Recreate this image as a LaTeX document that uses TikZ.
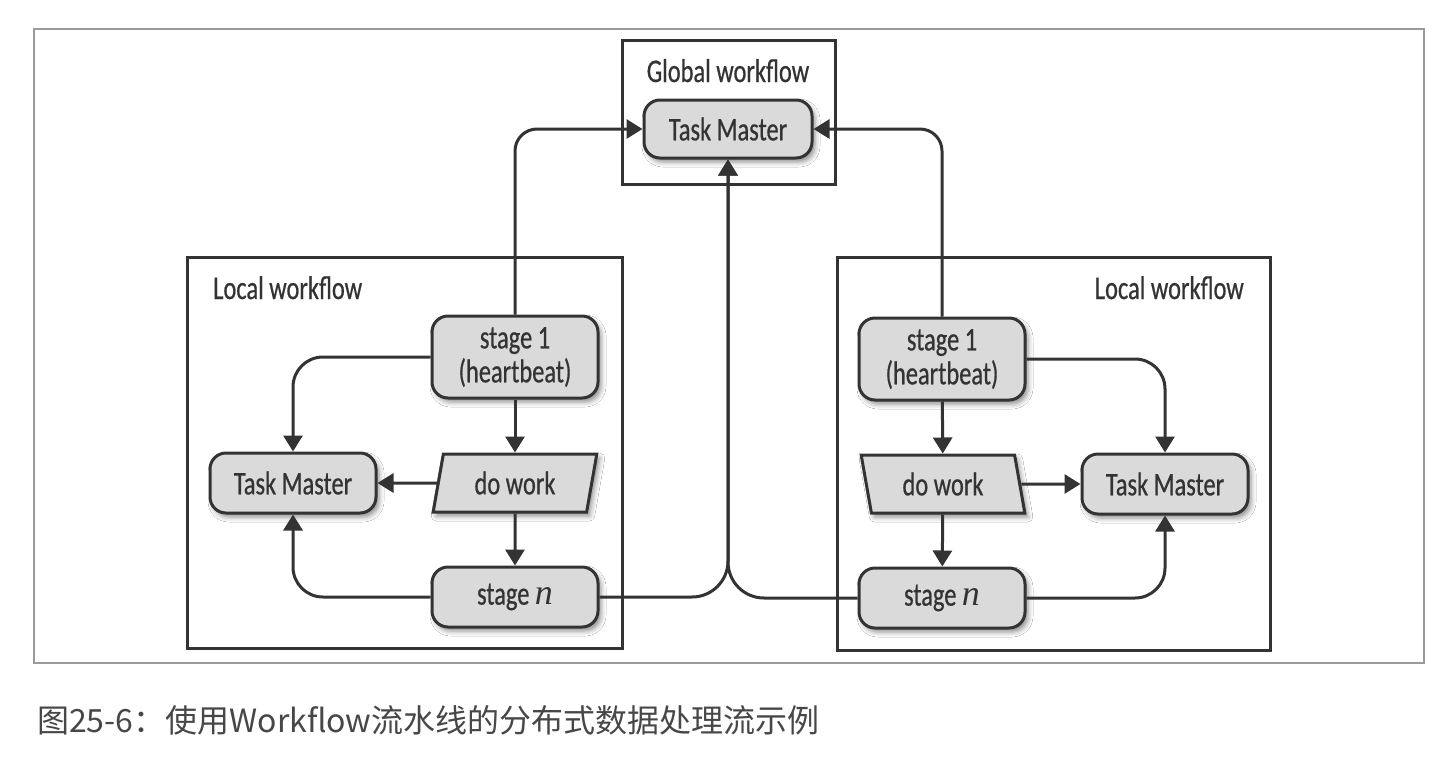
\documentclass[tikz,border=0pt]{standalone}
\usepackage{fontspec}
\setmainfont{Carlito}[FakeStretch=0.74,FakeBold=0.6]
\newfontfamily\cjk{Noto Sans CJK SC}
\newfontfamily\serifit{Liberation Serif}[Style=Italic]
\newcommand{\varn}{{\serifit\itshape\fontsize{36}{34}\selectfont n}}
\usetikzlibrary{shapes.geometric,arrows.meta,shadows.blur}
\definecolor{dark}{HTML}{333333}
\definecolor{boxgray}{HTML}{DADADA}
\definecolor{framegray}{HTML}{9A9A9A}
\tikzset{
  every node/.style={text=dark},
  lbl/.style={font=\fontsize{33}{34}\selectfont, inner sep=0pt},
  shad/.style={blur shadow={shadow xshift=3pt, shadow yshift=-4pt, shadow blur radius=5pt, shadow opacity=45}},
  box/.style={draw=dark, line width=3pt, fill=boxgray, rounded corners=16pt,
    minimum width=166pt, minimum height=60pt, inner sep=0pt, align=center,
    font=\fontsize{33}{34}\selectfont, shad},
  para/.style={trapezium, draw=dark, line width=3pt, fill=boxgray,
    trapezium stretches=true, minimum width=164pt, minimum height=58pt,
    inner sep=0pt, font=\fontsize{33}{34}\selectfont, shad},
  frame/.style={draw=dark, line width=3pt},
  conn/.style={draw=dark, line width=3pt, -{Triangle[length=16pt,width=19pt]}},
}
\begin{document}
\begin{tikzpicture}[x=1pt,y=-1pt]
\useasboundingbox (0,0) rectangle (1448,758);
\fill[white] (0,0) rectangle (1448,758);
% outer frame
\draw[framegray, line width=1.8pt] (34,29) rectangle (1424,663);
% containers
\draw[frame] (622,40) rectangle (835,184);
\draw[frame] (187,257) rectangle (622,648);
\draw[frame] (837,257) rectangle (1270,650);
\node[lbl, anchor=base] (gwl) at (728,82) {Global workflow};
\node[lbl, anchor=base west] (lwl) at (213,299) {Local workflow};
\node[lbl, anchor=base east] (rwl) at (1244,299) {Local workflow};
% nodes
\node[box, minimum width=168pt, minimum height=58pt] (gtm) at (728,129) {Task Master};
\node[box, minimum height=82pt] (ls1) at (515,357) {stage 1\\(heartbeat)};
\node[para, trapezium left angle=76, trapezium right angle=104] (ldw) at (515,483) {do work};
\node[box] (lsn) at (515,597) {stage \varn};
\node[box] (ltm) at (293,483) {Task Master};
\node[box, minimum height=82pt] (rs1) at (942,359) {stage 1\\(heartbeat)};
\node[para, trapezium left angle=104, trapezium right angle=76] (rdw) at (943,484) {do work};
\node[box] (rsn) at (942,598) {stage \varn};
\node[box] (rtm) at (1165,484) {Task Master};
% left connectors
\draw[conn, rounded corners=30pt] (ls1.west) -| (ltm.north);
\draw[conn] (ldw) -- (ltm);
\draw[conn, rounded corners=30pt] (lsn.west) -| (ltm.south);
\draw[conn] (ls1) -- (ldw);
\draw[conn] (ldw) -- (lsn);
% right connectors
\draw[conn, rounded corners=30pt] (rs1.east) -| (rtm.north);
\draw[conn] (rdw) -- (rtm);
\draw[conn, rounded corners=30pt] (rsn.east) -| (rtm.south);
\draw[conn] (rs1) -- (rdw);
\draw[conn] (rdw) -- (rsn);
% to global
\draw[conn, rounded corners=22pt] (ls1.north) |- (gtm.west);
\draw[conn, rounded corners=22pt] (rs1.north) |- (gtm.east);
\draw[conn, rounded corners=36pt] (lsn.east) -| (gtm.south);
\draw[conn, rounded corners=36pt] (rsn.west) -| (gtm.south);
% caption
\node[anchor=west, inner sep=0pt, font=\cjk\fontsize{32}{32}\selectfont, text=dark!90] (cap) at (37,720) {图25-6：使用Workflow流水线的分布式数据处理流示例};
\end{tikzpicture}
\end{document}
